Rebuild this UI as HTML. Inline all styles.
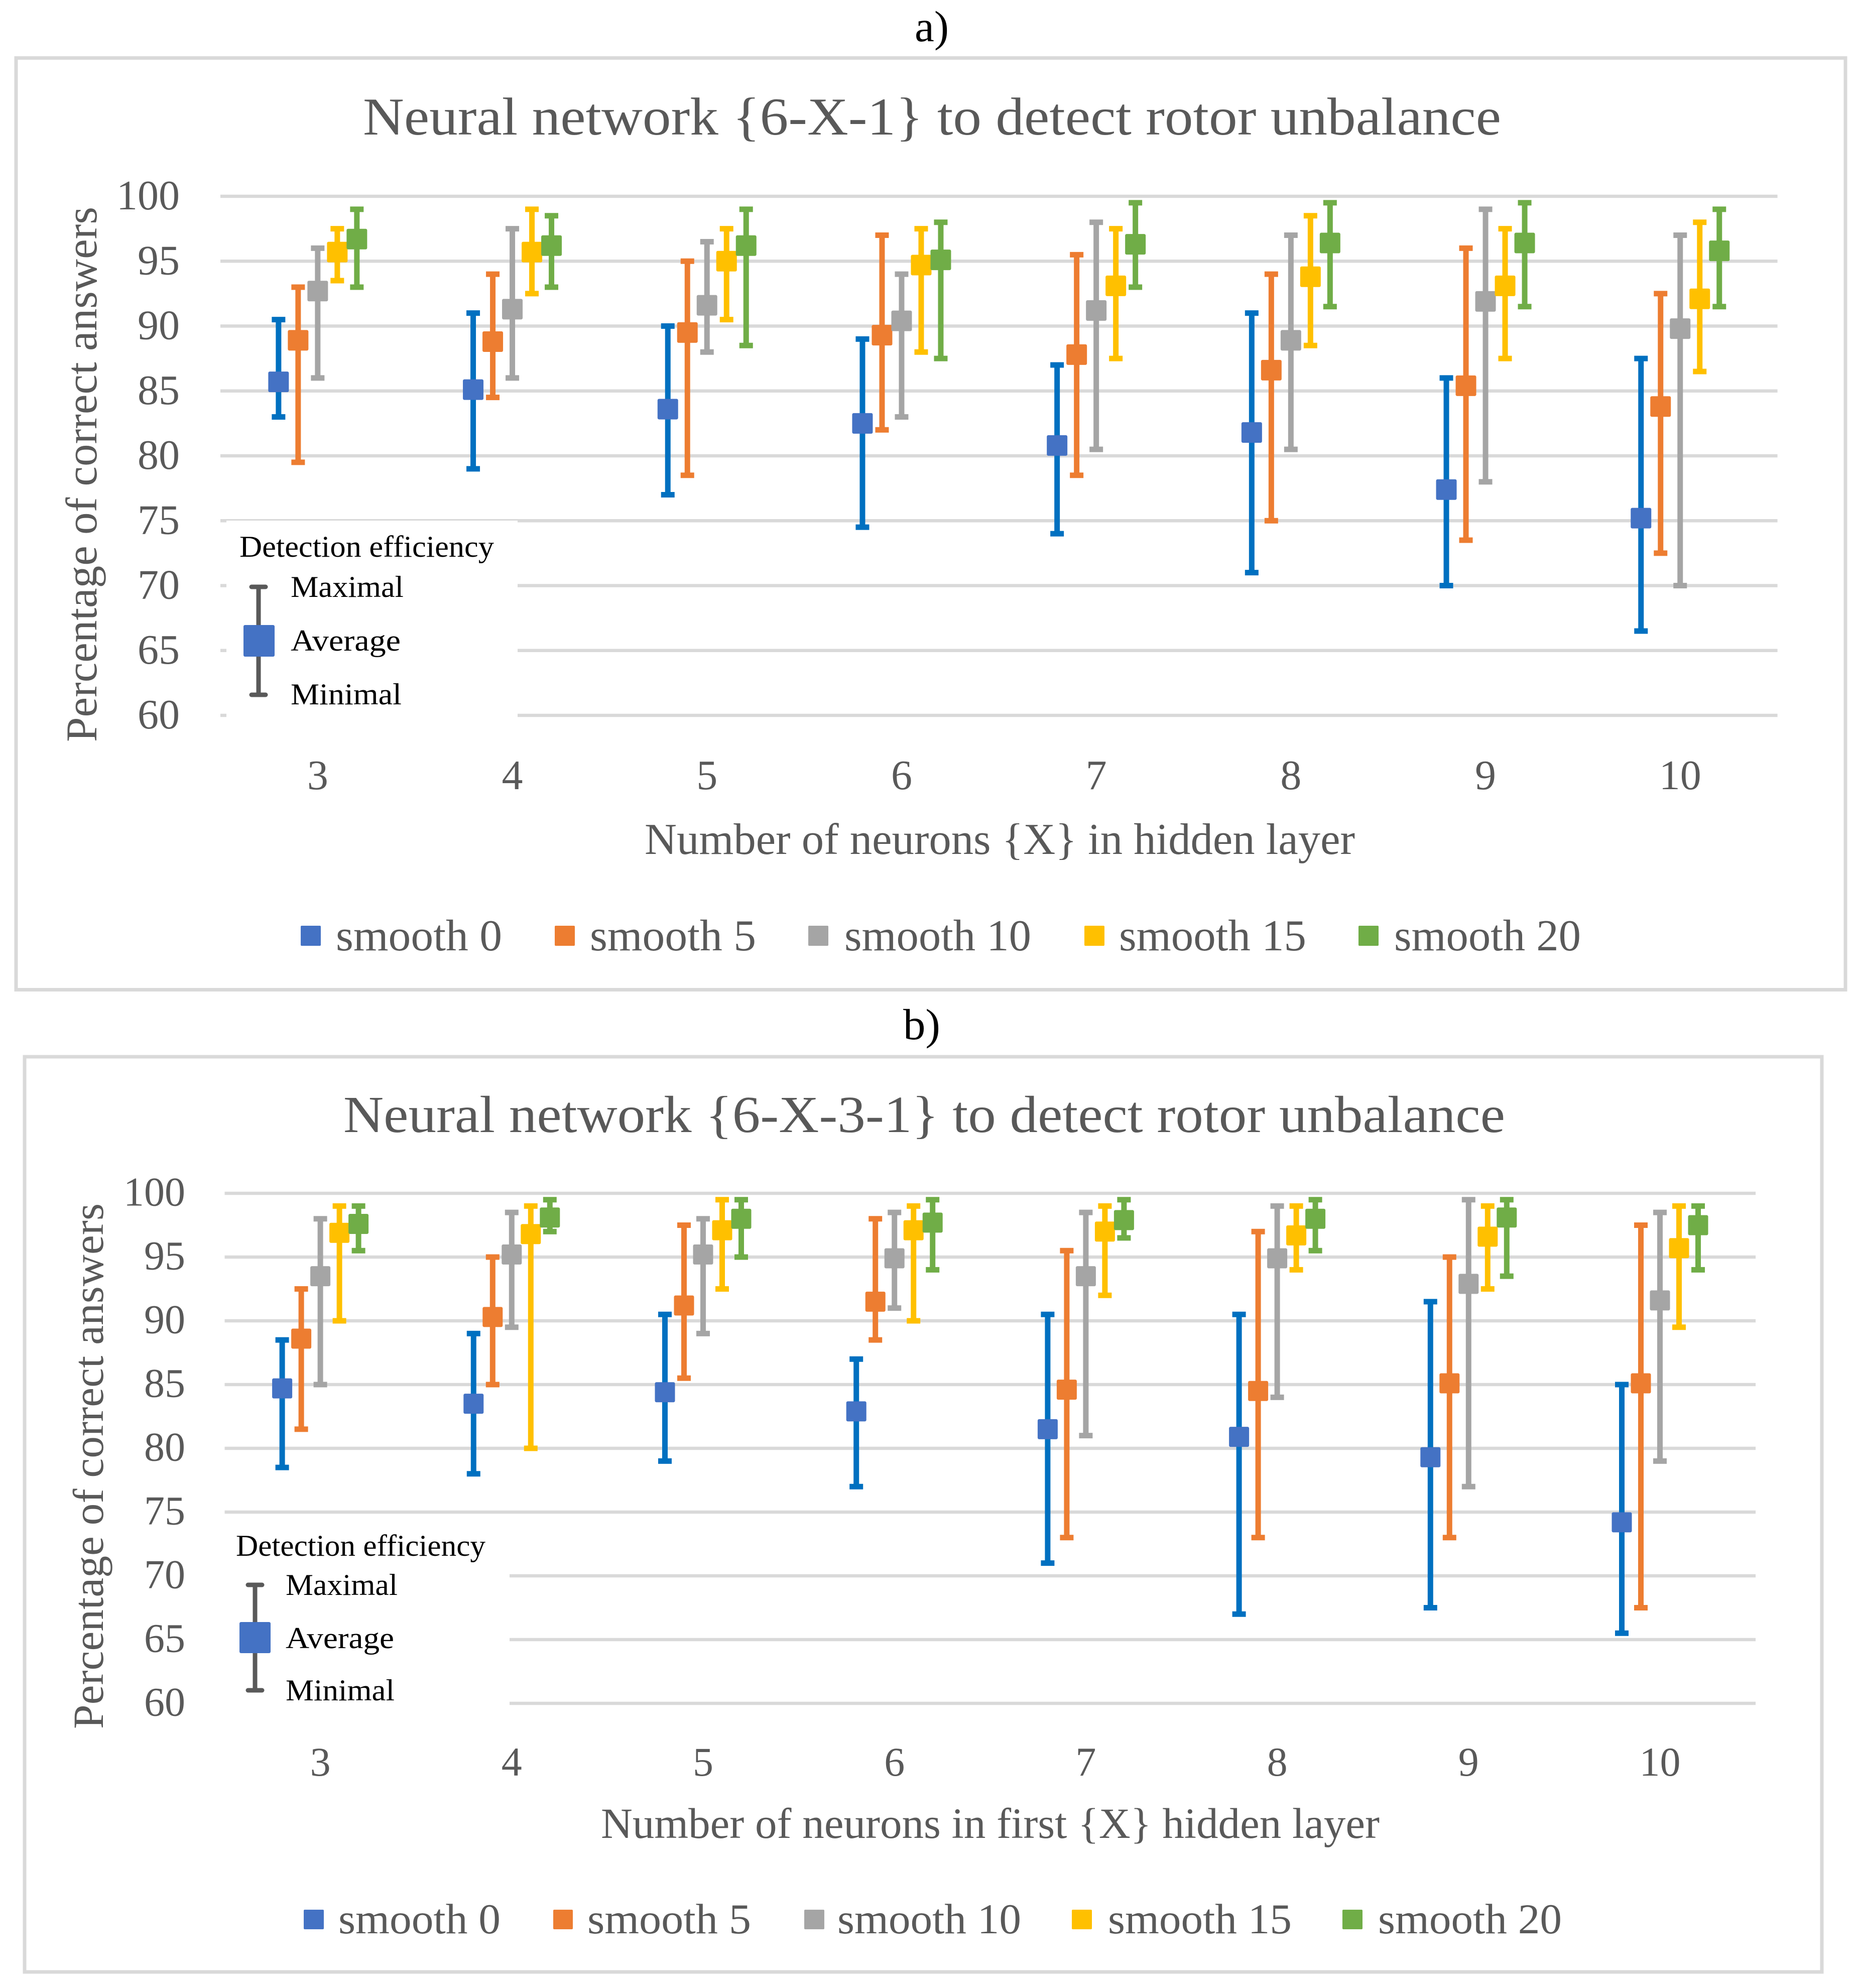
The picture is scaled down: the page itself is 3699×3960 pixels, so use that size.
<!DOCTYPE html>
<html lang="en">
<head>
<meta charset="utf-8">
<title>Neural network rotor unbalance detection charts</title>
<style>
html,body{margin:0;padding:0;background:#fff;}
svg{display:block;}
text{font-family:"Liberation Serif",serif;}
</style>
</head>
<body>
<svg id="figure" xmlns="http://www.w3.org/2000/svg" width="3699" height="3960" viewBox="0 0 3699 3960">
  <rect x="0" y="0" width="3699" height="3960" fill="#ffffff"/>

  <text x="1822" y="82" font-size="87" fill="#000" textLength="68" lengthAdjust="spacingAndGlyphs">a)</text>
  <rect x="32" y="115.500" width="3644" height="1856" fill="#fff" stroke="#d9d9d9" stroke-width="7"/>
  <text x="723" y="268" font-size="106" fill="#595959" textLength="2267" lengthAdjust="spacingAndGlyphs">Neural network {6-X-1} to detect rotor unbalance</text>
  <text transform="translate(192,1478) rotate(-90)" font-size="88" fill="#595959" textLength="1066" lengthAdjust="spacingAndGlyphs">Percentage of correct answers</text>
  <text x="1284" y="1701" font-size="88" fill="#595959" textLength="1415" lengthAdjust="spacingAndGlyphs">Number of neurons {X} in hidden layer</text>
  <g id="panel-a-grid"></g>
  <g id="panel-a-yticks"></g>
  <g id="panel-a-xticks"></g>
  <g id="panel-a-marks"></g>
  <g>
    <rect x="599" y="1844" width="40" height="40" rx="2" fill="#4472c4"/>
    <text x="669" y="1893" font-size="88" fill="#595959" textLength="331" lengthAdjust="spacingAndGlyphs">smooth 0</text>
    <rect x="1105" y="1844" width="40" height="40" rx="2" fill="#ed7d31"/>
    <text x="1175" y="1893" font-size="88" fill="#595959" textLength="331" lengthAdjust="spacingAndGlyphs">smooth 5</text>
    <rect x="1610" y="1844" width="40" height="40" rx="2" fill="#a5a5a5"/>
    <text x="1682" y="1893" font-size="88" fill="#595959" textLength="372" lengthAdjust="spacingAndGlyphs">smooth 10</text>
    <rect x="2160" y="1844" width="40" height="40" rx="2" fill="#ffc000"/>
    <text x="2229" y="1893" font-size="88" fill="#595959" textLength="373" lengthAdjust="spacingAndGlyphs">smooth 15</text>
    <rect x="2706" y="1844" width="40" height="40" rx="2" fill="#70ad47"/>
    <text x="2777" y="1893" font-size="88" fill="#595959" textLength="372" lengthAdjust="spacingAndGlyphs">smooth 20</text>
  </g>
  <g>
    <rect x="451" y="1037" width="580" height="396" fill="#ffffff"/>
    <text x="477" y="1109" font-size="60" fill="#000" textLength="507" lengthAdjust="spacingAndGlyphs">Detection efficiency</text>
    <line x1="515" y1="1169" x2="515" y2="1384" stroke="#595959" stroke-width="9"/>
    <line x1="501" y1="1169" x2="529" y2="1169" stroke="#595959" stroke-width="9" stroke-linecap="round"/>
    <line x1="501" y1="1384" x2="529" y2="1384" stroke="#595959" stroke-width="9" stroke-linecap="round"/>
    <rect x="485" y="1245" width="62" height="63" rx="3" fill="#4472c4"/>
    <text x="579" y="1189" font-size="60" fill="#000" textLength="225" lengthAdjust="spacingAndGlyphs">Maximal</text>
    <text x="579" y="1296" font-size="60" fill="#000" textLength="219" lengthAdjust="spacingAndGlyphs">Average</text>
    <text x="579" y="1403" font-size="60" fill="#000" textLength="221" lengthAdjust="spacingAndGlyphs">Minimal</text>
  </g>

  <text x="1799" y="2070" font-size="87" fill="#000" textLength="74" lengthAdjust="spacingAndGlyphs">b)</text>
  <rect x="49" y="2105" width="3580" height="1823" fill="#fff" stroke="#d9d9d9" stroke-width="7"/>
  <text x="684" y="2255" font-size="104" fill="#595959" textLength="2314" lengthAdjust="spacingAndGlyphs">Neural network {6-X-3-1} to detect rotor unbalance</text>
  <text transform="translate(205,3444) rotate(-90)" font-size="86" fill="#595959" textLength="1047" lengthAdjust="spacingAndGlyphs">Percentage of correct answers</text>
  <text x="1197" y="3661" font-size="86" fill="#595959" textLength="1551" lengthAdjust="spacingAndGlyphs">Number of neurons in first {X} hidden layer</text>
  <g id="panel-b-grid"></g>
  <g id="panel-b-yticks"></g>
  <g id="panel-b-xticks"></g>
  <g id="panel-b-marks"></g>
  <g>
    <rect x="605" y="3804" width="40" height="39" rx="2" fill="#4472c4"/>
    <text x="674" y="3851" font-size="85" fill="#595959" textLength="323" lengthAdjust="spacingAndGlyphs">smooth 0</text>
    <rect x="1102" y="3804" width="39" height="39" rx="2" fill="#ed7d31"/>
    <text x="1170" y="3851" font-size="85" fill="#595959" textLength="326" lengthAdjust="spacingAndGlyphs">smooth 5</text>
    <rect x="1602" y="3804" width="40" height="39" rx="2" fill="#a5a5a5"/>
    <text x="1668" y="3851" font-size="85" fill="#595959" textLength="366" lengthAdjust="spacingAndGlyphs">smooth 10</text>
    <rect x="2135" y="3804" width="40" height="39" rx="2" fill="#ffc000"/>
    <text x="2207" y="3851" font-size="85" fill="#595959" textLength="366" lengthAdjust="spacingAndGlyphs">smooth 15</text>
    <rect x="2674" y="3804" width="40" height="39" rx="2" fill="#70ad47"/>
    <text x="2745" y="3851" font-size="85" fill="#595959" textLength="366" lengthAdjust="spacingAndGlyphs">smooth 20</text>
  </g>
  <g>
    <rect x="440" y="3018" width="575" height="382" fill="#ffffff"/>
    <text x="470" y="3099" font-size="60" fill="#000" textLength="497" lengthAdjust="spacingAndGlyphs">Detection efficiency</text>
    <line x1="508" y1="3157" x2="508" y2="3367" stroke="#595959" stroke-width="9"/>
    <line x1="494" y1="3157" x2="522" y2="3157" stroke="#595959" stroke-width="9" stroke-linecap="round"/>
    <line x1="494" y1="3367" x2="522" y2="3367" stroke="#595959" stroke-width="9" stroke-linecap="round"/>
    <rect x="477" y="3231" width="62" height="62" rx="3" fill="#4472c4"/>
    <text x="569" y="3177" font-size="60" fill="#000" textLength="223" lengthAdjust="spacingAndGlyphs">Maximal</text>
    <text x="569" y="3283" font-size="60" fill="#000" textLength="216" lengthAdjust="spacingAndGlyphs">Average</text>
    <text x="569" y="3387" font-size="60" fill="#000" textLength="217" lengthAdjust="spacingAndGlyphs">Minimal</text>
  </g>
</svg>
<script>
const categories = [3, 4, 5, 6, 7, 8, 9, 10];
const yTickValues = [100, 95, 90, 85, 80, 75, 70, 65, 60];
const seriesNames = ['smooth-0', 'smooth-5', 'smooth-10', 'smooth-15', 'smooth-20'];

// Panel a: {6-X-1}
const aSmooth0Avg = [85.7, 85.1, 83.6, 82.5, 80.8, 81.8, 77.4, 75.2];
const aSmooth0Min = [83, 79, 77, 74.5, 74, 71, 70, 66.5];
const aSmooth0Max = [90.5, 91, 90, 89, 87, 91, 86, 87.5];
const aSmooth5Avg = [88.9, 88.8, 89.5, 89.3, 87.8, 86.6, 85.4, 83.8];
const aSmooth5Min = [79.5, 84.5, 78.5, 82, 78.5, 75, 73.5, 72.5];
const aSmooth5Max = [93, 94, 95, 97, 95.5, 94, 96, 92.5];
const aSmooth10Avg = [92.7, 91.3, 91.6, 90.4, 91.2, 88.9, 91.9, 89.8];
const aSmooth10Min = [86, 86, 88, 83, 80.5, 80.5, 78, 70];
const aSmooth10Max = [96, 97.5, 96.5, 94, 98, 97, 99, 97];
const aSmooth15Avg = [95.7, 95.7, 95, 94.7, 93.1, 93.8, 93.1, 92.1];
const aSmooth15Min = [93.5, 92.5, 90.5, 88, 87.5, 88.5, 87.5, 86.5];
const aSmooth15Max = [97.5, 99, 97.5, 97.5, 97.5, 98.5, 97.5, 98];
const aSmooth20Avg = [96.7, 96.2, 96.2, 95.1, 96.3, 96.4, 96.4, 95.8];
const aSmooth20Min = [93, 93, 88.5, 87.5, 93, 91.5, 91.5, 91.5];
const aSmooth20Max = [99, 98.5, 99, 98, 99.5, 99.5, 99.5, 99];

// Panel b: {6-X-3-1}
const bSmooth0Avg = [84.7, 83.5, 84.4, 82.9, 81.5, 80.9, 79.3, 74.2];
const bSmooth0Min = [78.5, 78, 79, 77, 71, 67, 67.5, 65.5];
const bSmooth0Max = [88.5, 89, 90.5, 87, 90.5, 90.5, 91.5, 85];
const bSmooth5Avg = [88.6, 90.3, 91.2, 91.5, 84.6, 84.5, 85.1, 85.1];
const bSmooth5Min = [81.5, 85, 85.5, 88.5, 73, 73, 73, 67.5];
const bSmooth5Max = [92.5, 95, 97.5, 98, 95.5, 97, 95, 97.5];
const bSmooth10Avg = [93.5, 95.2, 95.2, 94.9, 93.5, 94.9, 92.9, 91.6];
const bSmooth10Min = [85, 89.5, 89, 91, 81, 84, 77, 79];
const bSmooth10Max = [98, 98.5, 98, 98.5, 98.5, 99, 99.5, 98.5];
const bSmooth15Avg = [96.9, 96.8, 97.1, 97.1, 97, 96.7, 96.6, 95.7];
const bSmooth15Min = [90, 80, 92.5, 90, 92, 94, 92.5, 89.5];
const bSmooth15Max = [99, 99, 99.5, 99, 99, 99, 99, 99];
const bSmooth20Avg = [97.6, 98.1, 98, 97.7, 97.9, 98, 98.1, 97.5];
const bSmooth20Min = [95.5, 97, 95, 94, 96.5, 95.5, 93.5, 94];
const bSmooth20Max = [99, 99.5, 99.5, 99.5, 99.5, 99.5, 99.5, 99];

const aAvg = [aSmooth0Avg, aSmooth5Avg, aSmooth10Avg, aSmooth15Avg, aSmooth20Avg];
const aMin = [aSmooth0Min, aSmooth5Min, aSmooth10Min, aSmooth15Min, aSmooth20Min];
const aMax = [aSmooth0Max, aSmooth5Max, aSmooth10Max, aSmooth15Max, aSmooth20Max];
const bAvg = [bSmooth0Avg, bSmooth5Avg, bSmooth10Avg, bSmooth15Avg, bSmooth20Avg];
const bMin = [bSmooth0Min, bSmooth5Min, bSmooth10Min, bSmooth15Min, bSmooth20Min];
const bMax = [bSmooth0Max, bSmooth5Max, bSmooth10Max, bSmooth15Max, bSmooth20Max];

const markerColors = ['#4472c4', '#ed7d31', '#a5a5a5', '#ffc000', '#70ad47'];
const whiskerColors = ['#0070c0', '#ed7d31', '#a5a5a5', '#ffc000', '#70ad47'];
const NS = 'http://www.w3.org/2000/svg';

function make(tag, attrs, parent) {
  const node = document.createElementNS(NS, tag);
  for (const key in attrs) node.setAttribute(key, attrs[key]);
  parent.appendChild(node);
  return node;
}

function drawPanel(id, geom, avg, min, max) {
  const xScale = (c, s) => geom.left + geom.catW * (c + 0.5) + geom.step * (s - 2);
  const yScale = v => geom.top + (yTickValues[0] - v) * geom.unit;
  const grid = document.getElementById(id + '-grid');
  const yticks = document.getElementById(id + '-yticks');
  const xticks = document.getElementById(id + '-xticks');
  const marks = document.getElementById(id + '-marks');
  const right = geom.left + geom.catW * categories.length;

  yTickValues.forEach(v => {
    const gl = make('line', {x1: geom.left, x2: right, y1: yScale(v), y2: yScale(v), stroke: '#d9d9d9', 'stroke-width': 6.5}, grid);
    
    
    const t = make('text', {x: geom.yLabelX, y: yScale(v) + geom.yLabelDy, 'font-size': geom.tickSize, fill: '#595959', 'text-anchor': 'end'}, yticks);
    t.textContent = v;
    
    
  });

  categories.forEach((cat, c) => {
    const t = make('text', {x: geom.left + geom.catW * (c + 0.5), y: geom.xLabelY, 'font-size': geom.tickSize, fill: '#595959', 'text-anchor': 'middle'}, xticks);
    t.textContent = cat;
    
    
  });

  seriesNames.forEach((name, s) => {
    const group = make('g', {}, marks);
    
    
    categories.forEach((cat, c) => {
      const x = xScale(c, s);
      const yMin = yScale(min[s][c]);
      const yMax = yScale(max[s][c]);
      const yAvg = yScale(avg[s][c]);
      const color = whiskerColors[s];
      const whisker = make('line', {x1: x, x2: x, y1: yMax, y2: yMin, stroke: color, 'stroke-width': 11}, group);
      
      
      const capTop = make('line', {x1: x - 13.5, x2: x + 13.5, y1: yMax, y2: yMax, stroke: color, 'stroke-width': 11}, group);
      
      
      const capBottom = make('line', {x1: x - 13.5, x2: x + 13.5, y1: yMin, y2: yMin, stroke: color, 'stroke-width': 11}, group);
      
      
      const marker = make('rect', {x: x - geom.marker / 2, y: yAvg - geom.marker / 2, width: geom.marker, height: geom.marker, rx: 3, fill: markerColors[s]}, group);
      
      
    });
  });
}

drawPanel('panel-a', {left: 439, catW: 387.7, step: 39, top: 391, unit: 25.85, marker: 41, yLabelX: 358, yLabelDy: 26, xLabelY: 1572, tickSize: 84}, aAvg, aMin, aMax);
drawPanel('panel-b', {left: 447.500, catW: 381.2, step: 38, top: 2377, unit: 25.4, marker: 40, yLabelX: 369, yLabelDy: 24.5, xLabelY: 3537, tickSize: 82}, bAvg, bMin, bMax);
</script>
</body>
</html>
